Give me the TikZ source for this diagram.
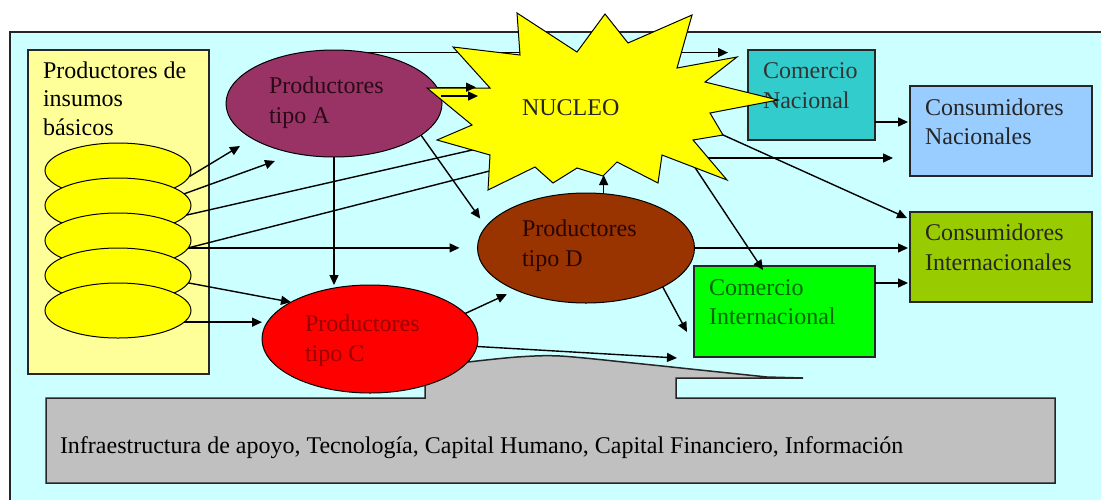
\documentclass[tikz,border=0pt]{standalone}
\usepackage{fontspec}
\setmainfont{Liberation Serif}
\usetikzlibrary{arrows.meta,shapes.geometric,calc}
\definecolor{bgc}{HTML}{CCFFFF}
\definecolor{yboxc}{HTML}{FFFF99}
\definecolor{yelc}{HTML}{FFFF00}
\definecolor{ac}{HTML}{993366}
\definecolor{dc}{HTML}{993300}
\definecolor{cc}{HTML}{FF0000}
\definecolor{cnc}{HTML}{33CCCC}
\definecolor{cnsc}{HTML}{99CCFF}
\definecolor{cisc}{HTML}{99CC00}
\definecolor{cintc}{HTML}{00FF00}
\definecolor{grc}{HTML}{C0C0C0}
\definecolor{atext}{HTML}{2A0A14}
\definecolor{dtext}{HTML}{2A0500}
\definecolor{ctext}{HTML}{990000}
\definecolor{gtext}{HTML}{006600}
\begin{document}
\begin{tikzpicture}[x=0.5pt,y=-0.5pt,
  arr/.style={draw=black,line width=0.7pt,-{Triangle[length=5pt,width=4.5pt]}},
  ln/.style={draw=black,line width=0.7pt},
  ell/.style={ellipse,draw=black,line width=0.5pt,inner sep=0pt,outer sep=0pt},
  box/.style={rectangle,draw=black!85,line width=0.75pt,inner sep=0pt,outer sep=0pt},
  txt/.style={anchor=base west,inner sep=0pt,outer sep=0pt,align=left,font=\fontsize{12pt}{15pt}\selectfont},
]
\useasboundingbox (0,0) rectangle (1101,499);
\clip (0,0) rectangle (1101,499);
\fill[white] (0,0) rectangle (1101,499);
\draw[fill=bgc,draw=black!85,line width=0.75pt] (10,32) rectangle (1130,530);

% left column
\node[box,fill=yboxc,minimum width=90.5pt,minimum height=162pt] (Y) at (118.5,212) {};
\node[txt,font=\fontsize{12pt}{14.25pt}\selectfont] (Yt) at (43,135) {Productores de\\insumos\\básicos};
\node[ell,fill=yelc,minimum width=73pt,minimum height=27.5pt] (e1) at (118,170.5) {};
\node[ell,fill=yelc,minimum width=73pt,minimum height=27.5pt] (e2) at (118,205.5) {};
\node[ell,fill=yelc,minimum width=73pt,minimum height=27.5pt] (e3) at (118,240.5) {};
\node[ell,fill=yelc,minimum width=73pt,minimum height=27.5pt] (e4) at (118,275.5) {};
\node[ell,fill=yelc,minimum width=73pt,minimum height=27.5pt] (e5) at (118,310.5) {};

% gray support shape
\path[fill=grc,draw=black!85,line width=0.75pt] (46,398) -- (425,398) -- (425,380) -- (455,366)
  -- plot[smooth] coordinates {(468,362) (517,357) (560,356) (633,363) (700,370) (767,377)}
  -- (803,378) -- (676,378) -- (676,398) -- (1055,398) -- (1055,483) -- (46,483) -- cycle;
\node[txt] (It) at (60,453) {Infraestructura de apoyo, Tecnología, Capital Humano, Capital Financiero, Información};

% boxes on the right
\node[box,fill=cnc,minimum width=63.5pt,minimum height=45pt] (CN) at (811.5,95) {};
\node[txt,text=black!80] (CNt) at (763,108) {Comercio\\Nacional};
\node[box,fill=cnsc,minimum width=91pt,minimum height=45pt] (CNS) at (1001,131) {};
\node[txt,text=black!85,font=\fontsize{12pt}{14.5pt}\selectfont] (CNSt) at (925,144) {Consumidores\\Nacionales};
\node[box,fill=cisc,minimum width=91pt,minimum height=45pt] (CIS) at (1001,257) {};
\node[txt,text=black!85] (CISt) at (925,270) {Consumidores\\Internacionales};
\node[box,fill=cintc,minimum width=90.5pt,minimum height=45.5pt] (CInt) at (784.5,311.5) {};
\node[txt,text=gtext,font=\fontsize{12pt}{14.5pt}\selectfont] (CIntt) at (709,324) {Comercio\\Internacional};

% producer ellipses
\node[ell,fill=ac,minimum width=108pt,minimum height=53.5pt] (A) at (334,103.5) {};
\node[txt,text=atext] (At) at (269,123) {Productores\\tipo A};
\node[ell,fill=cc,minimum width=108pt,minimum height=54pt] (C) at (370,339) {};
\node[txt,text=ctext] (Ct) at (305,361) {Productores\\tipo C};
\node[ell,fill=dc,minimum width=108.5pt,minimum height=55pt] (D) at (586,248) {};
\node[txt,text=dtext] (Dt) at (522,266) {Productores\\tipo D};

% named free ends
\coordinate (tA1) at (240,146);
\coordinate (tA2) at (275,161);
\coordinate (nc) at (560,130);
\coordinate (nd) at (560,153);
\coordinate (nA1) at (476,87);
\coordinate (nA2) at (478,97);
\coordinate (nD) at (603,175);
\coordinate (s1) at (690,158);
\coordinate (s2) at (712,130);
\coordinate (s3) at (684,151);
\coordinate (cnr) at ($(CN.south east)+(0,-18)$);
\coordinate (cir) at ($(CInt.north east)+(0,17)$);

% connectors below the burst
\draw[arr] (e1.-5) -- (tA1);
\draw[arr] (e2.10) -- (tA2);
\draw[ln] (e2.-8) -- (nc);
\draw[ln] (e3.-6) -- (nd);
\draw[arr,shorten >=9pt] (e3.-6) -- (e3.-6 -| D.west);
\draw[arr] (e4.-6) -- (C.155);
\draw[arr] (e5.-10) -- (e5.-10 -| C.west);
\draw[arr] (A.south) -- (A.south |- C.north);
\draw[arr,shorten >=5pt] (A.-20) -- (D.168);
\draw[arr,shorten >=10pt] (A.57) -- (A.57 -| CN.west);
\draw[arr,shorten >=8.5pt] (s1) -- (s1 -| CNS.west);
\draw[arr] (s2) -- ($(CIS.north west)+(-3,6)$);
\draw[arr] (s3) -- ($(CInt.north west)+(69,4)$);
\draw[arr,shorten >=1pt] (cnr) -- (cnr -| CNS.west);
\draw[arr,shorten >=1pt] (D.east) -- (D.east -| CIS.west);
\draw[arr,shorten >=1pt] (cir) -- (cir -| CIS.west);
\draw[arr,shorten >=5pt] (C.15) -- (D.211);
\draw[arr] (C.-4) -- ($(CInt.south west)+(-17,1)$);
\draw[arr] (D.south east) -- ($(CInt.south west)+(-7,-25)$);

% NUCLEO burst
\path[fill=yelc,draw=black,line width=0.5pt] (517,13) -- (577,52) -- (605,14) -- (628,43) -- (692,15)
  -- (677,68) -- (737,57) -- (705,82) -- (778,100) -- (710,113) -- (723,135) -- (693,140)
  -- (727,180) -- (662,155) -- (658,183) -- (617,162) -- (603,176) -- (577,168) -- (553,183)
  -- (535,167) -- (488,190) -- (490,155) -- (437,140) -- (472,125) -- (427,88) -- (490,88)
  -- (453,47) -- (520,55) -- cycle;
\node[txt,text=black!85] (N) at (522,115) {NUCLEO};

% connectors above the burst
\draw[arr] (A.9) -- (A.9 -| nA1);
\draw[arr] (A.4) -- (A.4 -| nA2);
\draw[arr] (D.72) -- (D.72 |- nD);
\end{tikzpicture}
\end{document}
